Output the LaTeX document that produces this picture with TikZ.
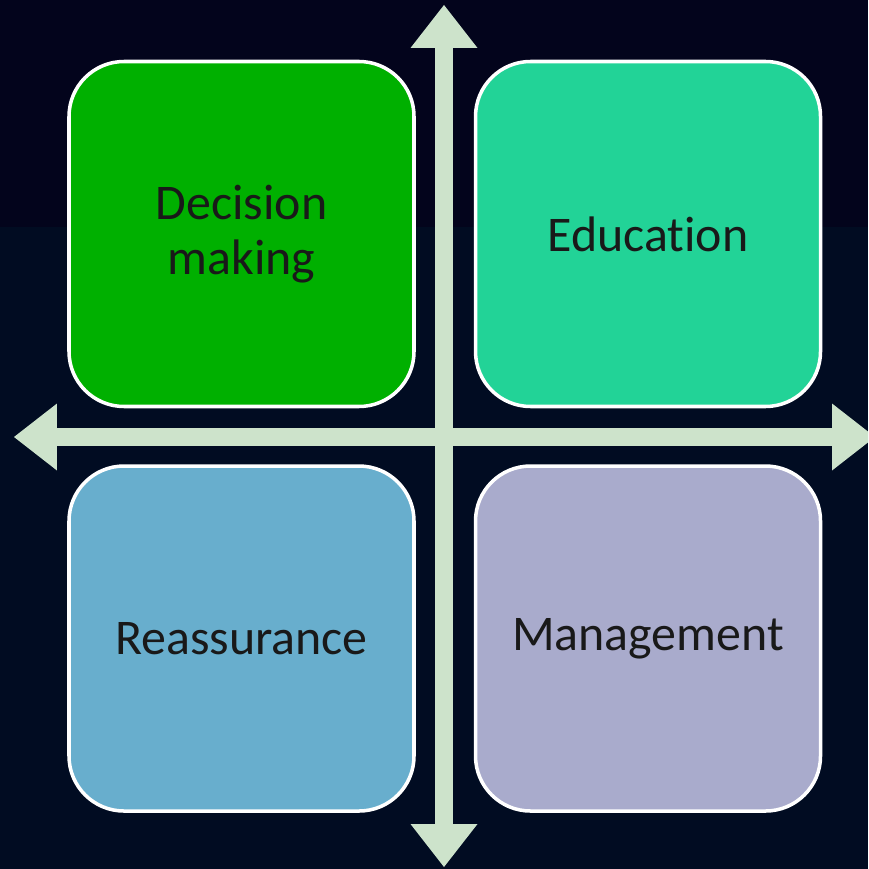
\documentclass[tikz,border=0pt]{standalone}
\usepackage{fontspec}
\setmainfont{Carlito}[Ligatures={NoCommon}]
\usepackage{tikz}
\usetikzlibrary{positioning, arrows.meta}
\definecolor{bg_top}{HTML}{03041C}
\definecolor{bg_bottom}{HTML}{010C22}
\definecolor{axis_green}{HTML}{CDE3CB}
\definecolor{box_green}{HTML}{00B000}
\definecolor{box_teal}{HTML}{22D397}
\definecolor{box_blue}{HTML}{68AECD}
\definecolor{box_lavender}{HTML}{A9ABCC}
\tikzstyle{quad} = [rectangle, rounded corners=0.55cm, draw=white, line width=1pt, minimum width=3.45cm, minimum height=3.45cm, align=center, text=black!90, font=\fontsize{14.2}{15.8}\selectfont]
\tikzstyle{quadaxis} = [axis_green, line width=0.18cm, {Triangle[width=0.67cm, length=0.43cm, line width=0pt]}-{Triangle[width=0.67cm, length=0.43cm, line width=0pt]}]

\begin{document}
\begin{tikzpicture}
    \useasboundingbox (0,0) rectangle (8.68,-8.69);
    \clip (0,0) rectangle (8.68,-8.69);
    \fill[bg_bottom] (0,0) rectangle (8.68,-8.69);
    \fill[bg_top] (0,0) rectangle (8.68,-2.27);
    \node (decision) [quad, fill=box_green] at (2.415,-2.34) {Decision\\making};
    \node (education) [quad, fill=box_teal, right=0.58cm of decision] {Education};
    \node (reassurance) [quad, fill=box_blue, below=0.56cm of decision] {Reassurance};
    \node (management) [quad, fill=box_lavender, right=0.58cm of reassurance] {Management};
    \coordinate (axis_top) at (4.44,-0.05);
    \coordinate (axis_bottom) at (4.44,-8.67);
    \coordinate (axis_left) at (0.14,-4.37);
    \coordinate (axis_right) at (8.75,-4.37);
    \draw [quadaxis] (axis_top) -- (axis_bottom);
    \draw [quadaxis] (axis_left) -- (axis_right);
\end{tikzpicture}
\end{document}
